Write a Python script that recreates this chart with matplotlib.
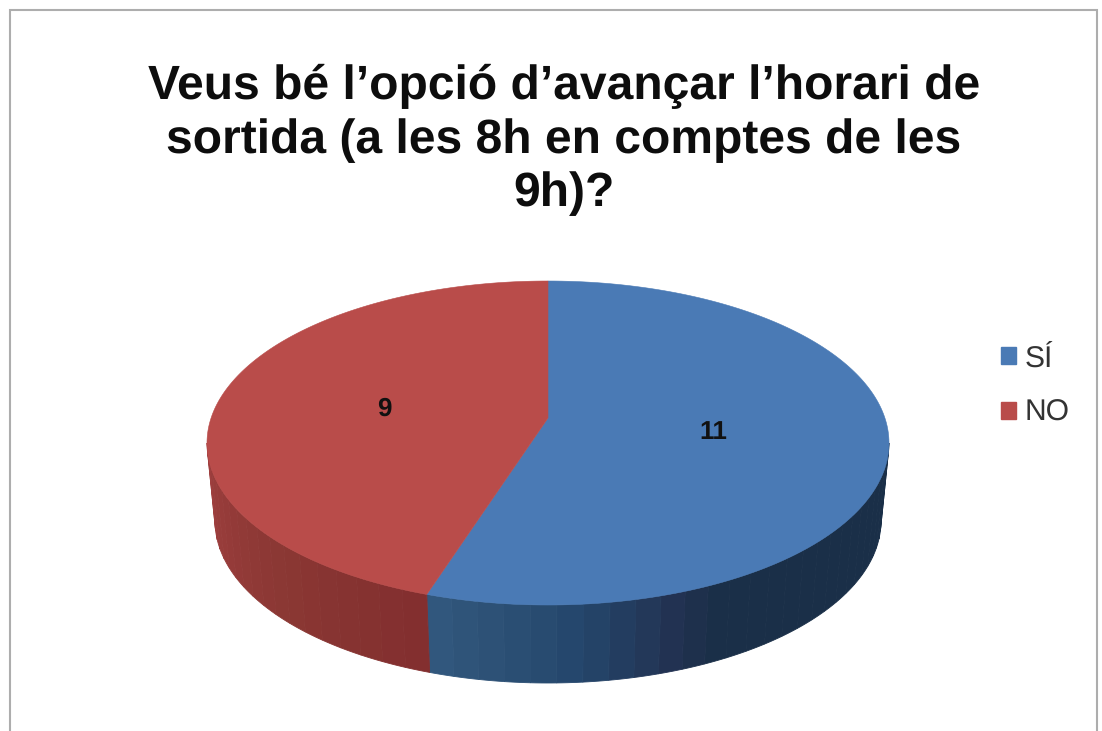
import numpy as np
import matplotlib
matplotlib.use("Agg")
import matplotlib.pyplot as plt
from matplotlib.patches import Polygon, Patch

plt.rcParams['font.family'] = ['Liberation Sans', 'DejaVu Sans']
plt.rcParams['text.hinting'] = 'none'
plt.rcParams['text.hinting_factor'] = 1

title_lines = ["Veus bé l’opció d’avançar l’horari de",
               "sortida (a les 8h en comptes de les",
               "9h)?"]
categories = ["SÍ", "NO"]
values = [11, 9]
top_colors = ["#4a7ab5", "#b94c4a"]
side_stops_t = [[0, 155, 160, 175, 200], [200, 225, 270, 360]]
side_stops_c = [["#1a2f48", "#1a2f48", "#22304f", "#24466b", "#345a80"],
                ["#832f2f", "#8a3733", "#9f3f3f", "#9f3f3f"]]

CX, CY_APEX, CY, RX, RY = 548, 418, 443, 341, 162
RX_B, DEPTH, WARP = 333, 78, 4.8


def warp(t):
    return t + WARP * np.sin(np.radians(2 * t))


def top_pt(t):
    a = np.radians(warp(t))
    return CX + RX * np.sin(a), CY - RY * np.cos(a)


def bot_pt(t):
    a = np.radians(warp(t))
    return CX + RX_B * np.sin(a), CY + DEPTH - RY * np.cos(a)


def hex_rgb(c):
    return np.array(matplotlib.colors.to_rgb(c))


fig = plt.figure(figsize=(11.02, 7.31), dpi=100)
ax = fig.add_axes([0, 0, 1, 1])
ax.set_xlim(0, 1102)
ax.set_ylim(731, 0)
ax.axis("off")

# chart frame (open at the bottom, cropped in the reference)
ax.plot([10, 10, 1097, 1097], [731, 10, 10, 731], color="#adadad", lw=1.5, solid_joinstyle="miter")

edges = np.cumsum([0] + values) / sum(values) * 360

# sides, front half only
for i in range(len(values)):
    a0, a1 = max(edges[i], 90), min(edges[i + 1], 270)
    if a1 <= a0:
        continue
    stops = np.array([hex_rgb(c) for c in side_stops_c[i]])
    bands = np.linspace(a0, a1, int((a1 - a0) / 4) + 2)
    for b0, b1 in zip(bands[:-1], bands[1:]):
        tt = np.linspace(b0, b1, 6)
        xt, yt = top_pt(tt)
        xb, yb = bot_pt(tt)
        mid = (b0 + b1) / 2
        col = [np.interp(mid, side_stops_t[i], stops[:, k]) for k in range(3)]
        ax.add_patch(Polygon(np.r_[np.c_[xt, yt], np.c_[xb, yb][::-1]],
                             closed=True, fc=col, ec=col, lw=0.6, zorder=2))

# top faces
for i in range(len(values)):
    tt = np.linspace(edges[i], edges[i + 1], 200)
    x, y = top_pt(tt)
    pts = np.r_[[[CX, CY_APEX]], np.c_[x, y]]
    ax.add_patch(Polygon(pts, closed=True, fc=top_colors[i], ec=top_colors[i], lw=0.4, zorder=3))

# data labels
ax.text(713, 432, str(values[0]), ha="center", va="center", fontsize=18.5, color="#111111",
        fontweight="bold", zorder=4)
ax.text(384, 409, str(values[1]), ha="center", va="center", fontsize=18.5, color="#111111",
        fontweight="bold", zorder=4)

for line, ty in zip(title_lines, [86, 141, 194]):
    ax.text(564, ty, line, ha="center", va="center", fontsize=34.5, fontweight="bold",
            color="#0d0d0d", zorder=4)

handles = [Patch(fc=c, ec=c) for c in top_colors]
leg = ax.legend(handles, categories, loc="center left", bbox_to_anchor=(1001, 386),
                bbox_transform=ax.transData, frameon=False, fontsize=21.5,
                handlelength=0.5, handleheight=0.5, handletextpad=0.3,
                labelspacing=0.9, borderpad=0, borderaxespad=0, labelcolor="#333333")

fig.savefig("out.png", dpi=100)
